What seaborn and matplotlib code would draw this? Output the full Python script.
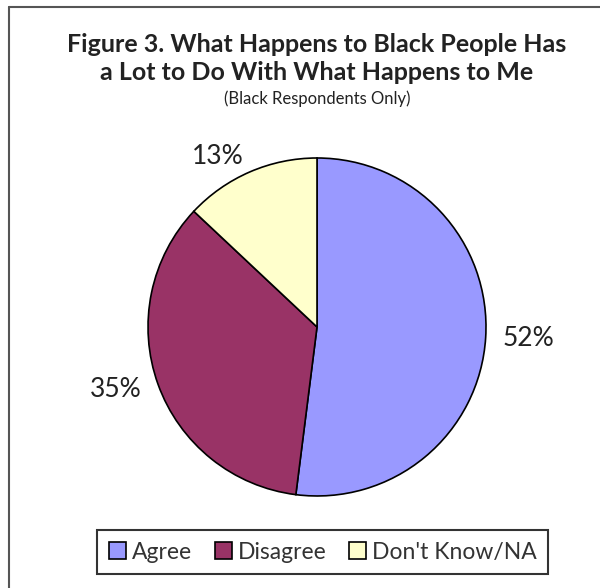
import matplotlib
matplotlib.use("Agg")
import matplotlib.pyplot as plt
import seaborn as sns
from matplotlib.lines import Line2D

categories = ["Agree", "Disagree", "Don't Know/NA"]
values = [52, 35, 13]
pct_labels = ["52%", "35%", "13%"]
colors = ["#9999FF", "#993366", "#FFFFCC"]

title_line1 = "Figure 3. What Happens to Black People Has"
title_line2 = "a Lot to Do With What Happens to Me"
subtitle = "(Black Respondents Only)"

sns.set_theme(style="white")
plt.rcParams['font.family'] = ['Lato', 'DejaVu Sans']

fig = plt.figure(figsize=(6.0, 5.88), dpi=100)
fig.patch.set_facecolor("white")

ax = fig.add_axes([0.2467, 0.1565, 0.5633, 0.5748])
wedges, texts = ax.pie(values, labels=pct_labels, colors=colors, startangle=90,
                       counterclock=False, labeldistance=1.1,
                       wedgeprops=dict(edgecolor="black", linewidth=1.2),
                       textprops=dict(fontsize=19, color="#222222"))
ax.set_xlim(-1.0, 1.0)
ax.set_ylim(-1.0, 1.0)
ax.set_aspect("equal")
ax.axis("off")

fig.text(0.528, 0.925, title_line1, ha="center", va="center", fontsize=18,
         fontweight="bold", color="#222222")
fig.text(0.528, 0.876, title_line2, ha="center", va="center", fontsize=18,
         fontweight="bold", color="#222222")
fig.text(0.528, 0.832, subtitle, ha="center", va="center", fontsize=12,
         color="#222222")

leg = ax.legend(wedges, categories, loc="center", bbox_to_anchor=(0.538, 0.0612),
                bbox_transform=fig.transFigure, ncol=3, frameon=True, fancybox=False,
                fontsize=16.5, handlelength=0.75, handleheight=0.75, handletextpad=0.25,
                columnspacing=1.0, borderpad=0.5, labelcolor="#333333")
leg.get_frame().set_edgecolor("black")
leg.get_frame().set_linewidth(1.5)

# outer frame (top and left edges)
fig.add_artist(Line2D([9/600, 1.0], [1 - 7/588, 1 - 7/588], transform=fig.transFigure,
                      color="#555555", linewidth=1.5))
fig.add_artist(Line2D([9/600, 9/600], [0.0, 1 - 7/588], transform=fig.transFigure,
                      color="#555555", linewidth=1.5))

fig.savefig("out.png", dpi=100, facecolor="white")
